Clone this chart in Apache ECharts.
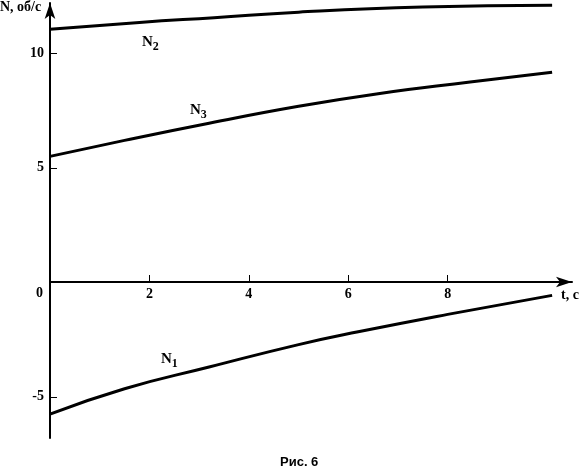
<!DOCTYPE html>
<html>
<head>
<meta charset="utf-8">
<script src="https://cdn.jsdelivr.net/npm/echarts@6/dist/echarts.min.js"></script>
<style>
  html, body { margin: 0; padding: 0; background: #fff; }
  #chart { width: 582px; height: 472px; }
</style>
</head>
<body>
<div id="chart"></div>
<script>
  // time points (s) and curves
  const tN1 = [0, 1.5, 3.2, 5, 6.2, 8, 10.1]
  const valN1 = [-5.76, -4.65, -3.7, -2.72, -2.16, -1.4, -0.57]
  const tN2 = [0, 1.8, 3.3, 5, 7.5, 10.1]
  const valN2 = [11.05, 11.35, 11.56, 11.8, 12.02, 12.1]
  const tN3 = [0, 1.5, 3.2, 5, 6.6, 8.45, 10.1]
  const valN3 = [5.5, 6.2, 6.95, 7.69, 8.24, 8.75, 9.18]
  const xTicks = [2, 4, 6, 8]
  const yTicks = [-5, 5, 10]

  const zip = (a, b) => a.map((v, i) => [v, b[i]])
  const serif = '"Liberation Serif", "DejaVu Serif", serif'

  let myChart = echarts.init(document.getElementById('chart'))

  const lineSeries = (data) => ({
    type: 'line',
    data: data,
    smooth: true,
    symbol: 'none',
    lineStyle: { color: '#000', width: 3 },
    silent: true
  })

  // curve name with subscript index
  const curveLabel = (idx, left, top) => ({
    type: 'text', left: left, top: top,
    style: {
      text: '{n|N}{s|' + idx + '}',
      rich: {
        n: { font: 'bold 15px ' + serif, fill: '#000' },
        s: { font: 'bold 12px ' + serif, fill: '#000', padding: [9, 0, 0, 0] }
      }
    }
  })

  let option = {
    animation: false,
    backgroundColor: '#fff',
    grid: { left: 50, right: 10, top: 3, bottom: 34 },
    xAxis: {
      type: 'value',
      min: 0,
      max: 10.5,
      offset: -156, // x axis sits at N = 0
      splitLine: { show: false },
      axisLine: {
        onZero: false,
        symbol: ['none', 'arrow'],
        symbolSize: [8, 16],
        lineStyle: { color: '#000', width: 2 }
      },
      axisTick: {
        inside: true,
        length: 7,
        customValues: xTicks,
        lineStyle: { color: '#000', width: 1 }
      },
      axisLabel: {
        customValues: xTicks,
        margin: 5,
        color: '#000',
        fontFamily: serif,
        fontWeight: 'bold',
        fontSize: 14
      }
    },
    yAxis: {
      type: 'value',
      min: -6.8,
      max: 12.2,
      splitLine: { show: false },
      axisLine: {
        symbol: ['none', 'arrow'],
        symbolSize: [8, 16],
        lineStyle: { color: '#000', width: 2 }
      },
      axisTick: {
        inside: true,
        length: 7,
        customValues: yTicks,
        lineStyle: { color: '#000', width: 1 }
      },
      axisLabel: {
        customValues: yTicks,
        margin: 6,
        color: '#000',
        fontFamily: serif,
        fontWeight: 'bold',
        fontSize: 14
      }
    },
    series: [
      lineSeries(zip(tN1, valN1)),
      lineSeries(zip(tN2, valN2)),
      lineSeries(zip(tN3, valN3))
    ],
    graphic: [
      { type: 'text', left: 0, top: 0, style: { text: 'N, об/с', font: 'bold 14px ' + serif, fill: '#000' } },
      { type: 'text', left: 36, top: 286, style: { text: '0', font: 'bold 14px ' + serif, fill: '#000' } },
      { type: 'text', left: 561, top: 288, style: { text: 't, c', font: 'bold 14px ' + serif, fill: '#000' } },
      curveLabel(2, 142, 35),
      curveLabel(3, 190, 103),
      curveLabel(1, 161, 352),
      { type: 'text', left: 280, top: 456, style: { text: 'Рис. 6', font: 'bold 13px "Liberation Sans", Arial, sans-serif', fill: '#000' } }
    ]
  }

  myChart.setOption(option)
</script>
</body>
</html>
